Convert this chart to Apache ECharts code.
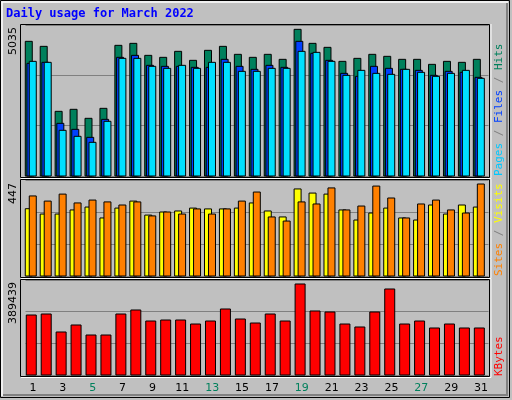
<!DOCTYPE html>
<html><head><meta charset="utf-8">
<script src="https://cdn.jsdelivr.net/npm/echarts@6/dist/echarts.min.js"></script>
<style>html,body{margin:0;padding:0;background:#c0c0c0}#c{width:512px;height:400px}</style>
</head><body><div id="c"></div>
<script>
const days = Array.from({length:31},(_, i)=>String(i+1));
const weekendDays = ['5','6','12','13','19','20','26','27'];
const hits = [4623,4451,2220,2289,1980,2323,4486,4554,4142,4074,4280,3971,4314,4451,4177,4074,4177,4005,5035,4554,4417,3936,4039,4177,4108,4005,4005,3833,3936,3902,4005];
const files = [3868,3902,1808,1602,1327,1945,4074,4142,3799,3765,3765,3730,3730,4005,3765,3662,3799,3730,4623,4211,3971,3524,3421,3765,3696,3662,3627,3456,3593,3559,3387];
const pages = [3936,3902,1568,1362,1156,1877,4039,4039,3765,3696,3799,3696,3902,3902,3593,3593,3696,3696,4280,4245,3936,3456,3627,3524,3490,3662,3559,3421,3524,3627,3353];
const sites = [327,301,301,321,335,282,330,364,296,311,316,330,326,326,330,355,316,287,423,403,398,321,272,306,330,282,272,345,301,345,335];
const visits = [389,364,398,355,369,360,345,360,292,311,301,326,301,326,364,408,287,267,360,350,428,321,340,437,379,282,350,369,321,306,447];
const kbytes = [256770,261050,184020,213980,171180,171180,261050,278170,231090,235370,235370,218250,231090,282450,239650,222530,261050,231090,389439,273890,269610,218250,205420,269610,368040,218250,231090,201140,218250,201140,201140];
const maxLabels = ['5035','447','389439'];

const grids = [{top:25,height:151},{top:180,height:96},{top:280,height:95}];
const yMax = [5184, 466.5, 406554];

function bars(values, gi, color, off, w){
  return {type:'custom', xAxisIndex:gi, yAxisIndex:gi,
    data: values.map((v,i)=>[i,v]),
    renderItem:(params, api)=>{
      const p = api.coord([api.value(0), api.value(1)]);
      const b = api.coord([api.value(0), 0]);
      return {type:'rect', shape:{x:p[0]+off, y:p[1], width:w, height:b[1]-p[1]},
        style:{fill:color, stroke:'#000', lineWidth:1}};
    }};
}
const chart = echarts.init(document.getElementById('c'));
const graphic = [
  {type:'rect', shape:{x:0.5,y:0.5,width:509,height:397}, style:{fill:'#c0c0c0', stroke:'#000', lineWidth:1}, z:-10},
  {type:'polyline', shape:{points:[[2,396],[2,2],[508,2]]}, style:{stroke:'#fff', lineWidth:1.5, fill:null}, z:-9},
  {type:'polyline', shape:{points:[[3,395],[507,395],[507,3]]}, style:{stroke:'#808080', lineWidth:2, fill:null}, z:-9},
  {type:'text', left:6, top:8, style:{text:'Daily usage for March 2022', fill:'#0000ff', font:'bold 12px "DejaVu Sans Mono"'}},
];
const panelBox = [[24,177],[179,277],[279,376]];
panelBox.forEach(([t,b])=>{
  graphic.push({type:'rect', shape:{x:20.5,y:t+0.5,width:469,height:b-t}, style:{fill:'#c0c0c0', stroke:'#000', lineWidth:1}, z:-5});
  graphic.push({type:'polyline', shape:{points:[[21,b+1.5],[491,b+1.5],[491,t]]}, style:{stroke:'#fff', lineWidth:1, fill:null}, z:-5});
});
const lblY = [27,183,282];
maxLabels.forEach((t,i)=>{
  graphic.push({type:'text', x:8, y:lblY[i], rotation:Math.PI/2,
    style:{text:t, fill:'#000', font:'11px "DejaVu Sans"', align:'right', verticalAlign:'top'}});
});
const mono = '11px "DejaVu Sans Mono"';
function rlabel(y, parts){
  graphic.push({type:'text', x:494, y:y, rotation:Math.PI/2,
    style:{text: parts.map((p,i)=>'{s'+i+'|'+p[0]+'}').join(''),
      rich: Object.fromEntries(parts.map((p,i)=>['s'+i,{fill:p[1], font:mono}])),
      align:'left', verticalAlign:'top'}});
}
rlabel(176,[['Pages','#00c8ff'],[' / ','#808080'],['Files','#0040ff'],[' / ','#808080'],['Hits','#00805c']]);
rlabel(276,[['Sites','#ff8000'],[' / ','#808080'],['Visits','#ffff00']]);
rlabel(376,[['KBytes','#ff0000']]);

chart.setOption({
  animation:false,
  grid: grids.map(g=>({left:25.5, right:23.5, top:g.top, height:g.height})),
  xAxis: grids.map((g,i)=>({type:'category', gridIndex:i, data:days,
    axisLine:{show:false}, axisTick:{show:false},
    axisLabel:{show:i===2, margin:8, fontSize:11, fontFamily:'DejaVu Sans',
      color:(v)=>weekendDays.includes(v)?'#00805c':'#000'}})),
  yAxis: grids.map((g,i)=>({type:'value', gridIndex:i, min:0, max:yMax[i], interval:yMax[i]/3,
    axisLabel:{show:false}, axisLine:{show:false}, axisTick:{show:false},
    splitLine:{show:true, lineStyle:{color:'#808080', width:1}}})),
  graphic: graphic,
  series:[
    bars(hits,0,'#00805c',-7.7,7),
    bars(files,0,'#0040ff',-6,7),
    bars(pages,0,'#00e0ff',-3.7,7),
    bars(sites,1,'#ffff00',-7.7,7),
    bars(visits,1,'#ff8000',-3.7,7),
    bars(kbytes,2,'#ff0000',-6.7,10)
  ]
});
</script></body></html>
